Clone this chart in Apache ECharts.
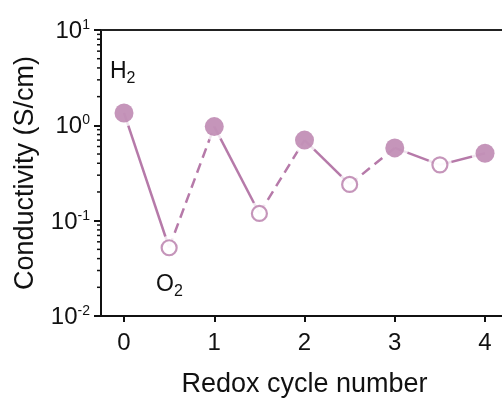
<!DOCTYPE html>
<html>
<head>
<meta charset="utf-8">
<script src="https://cdn.jsdelivr.net/npm/echarts@6.0.0/dist/echarts.min.js"></script>
<style>
  html, body { margin: 0; padding: 0; background: #fff; }
  #chart { width: 502px; height: 398px; }
</style>
</head>
<body>
<div id="chart"></div>
<script>
// ---- data ----
var cycleNumber = [0, 0.5, 1, 1.5, 2, 2.5, 3, 3.5, 4];
var conductivity = [1.35, 0.052, 0.97, 0.119, 0.70, 0.24, 0.58, 0.385, 0.51];
var atmosphere = ['H2', 'O2', 'H2', 'O2', 'H2', 'O2', 'H2', 'O2', 'H2'];
var segmentStyle = ['solid', 'dashed', 'solid', 'dashed', 'solid', 'dashed', 'solid', 'solid'];
var xTickValues = [0, 1, 2, 3, 4];
var yMinorTickValues = [0.02, 0.03, 0.04, 0.05, 0.06, 0.07, 0.08, 0.09,
                        0.2, 0.3, 0.4, 0.5, 0.6, 0.7, 0.8, 0.9,
                        2, 3, 4, 5, 6, 7, 8, 9];

var COLOR = '#b67aa9';
var FONT = "'Liberation Sans', Arial, sans-serif";
var X_MIN = -0.255, X_MAX = 4.188;

var chart = echarts.init(document.getElementById('chart'), null, { renderer: 'canvas' });

var series = [];
// line segments
for (var i = 0; i < cycleNumber.length - 1; i++) {
  series.push({
    type: 'line',
    xAxisIndex: 0, yAxisIndex: 0,
    data: [[cycleNumber[i], conductivity[i]], [cycleNumber[i + 1], conductivity[i + 1]]],
    showSymbol: false,
    silent: true,
    z: 2,
    lineStyle: { color: COLOR, width: 2.5, type: segmentStyle[i] === 'dashed' ? [10, 6] : 'solid' }
  });
}
var filled = [], hollow = [], halo = [];
for (var j = 0; j < cycleNumber.length; j++) {
  var p = [cycleNumber[j], conductivity[j]];
  if (atmosphere[j] === 'H2') { filled.push(p); halo.push({ value: p, symbolSize: 27 }); }
  else { hollow.push(p); halo.push({ value: p, symbolSize: 24 }); }
}
series.push({
  type: 'scatter', data: halo, symbol: 'circle', z: 3, silent: true,
  itemStyle: { color: '#ffffff' }
});
series.push({
  type: 'scatter', data: filled, symbol: 'circle', symbolSize: 19, z: 4, silent: true,
  itemStyle: { color: COLOR }
});
series.push({
  type: 'scatter', data: hollow, symbol: 'circle', symbolSize: 15, z: 4, silent: true,
  itemStyle: { color: '#ffffff', borderColor: COLOR, borderWidth: 2.2 }
});
// minor ticks on log axis
series.push({
  type: 'custom',
  data: yMinorTickValues.map(function (v) { return [X_MIN, v]; }),
  clip: false, silent: true, z: 5,
  renderItem: function (params, api) {
    var pt = api.coord([api.value(0), api.value(1)]);
    return {
      type: 'line',
      shape: { x1: pt[0] - 4, y1: pt[1], x2: pt[0], y2: pt[1] },
      style: { stroke: '#111', lineWidth: 1.5 }
    };
  }
});

var option = {
  backgroundColor: '#ffffff',
  animation: false,
  textStyle: { fontFamily: FONT },
  grid: { left: 101, top: 30, right: 0, bottom: 82, containLabel: false, outerBoundsMode: 'none' },
  xAxis: [{
    type: 'value', min: X_MIN, max: X_MAX,
    name: 'Redox cycle number', nameLocation: 'middle', nameGap: 55,
    nameTextStyle: { fontSize: 27, color: '#111', fontFamily: FONT, padding: [0, 0, 0, 6] },
    axisLine: { show: true, onZero: false, lineStyle: { color: '#111', width: 2 } },
    axisTick: { show: true, customValues: xTickValues, length: 6, lineStyle: { color: '#111', width: 2 } },
    axisLabel: { customValues: xTickValues, fontSize: 24, color: '#111', margin: 15, fontFamily: FONT },
    splitLine: { show: false }
  }, {
    type: 'value', min: X_MIN, max: X_MAX, position: 'top',
    axisLine: { show: true, onZero: false, lineStyle: { color: '#222', width: 2 } },
    axisTick: { show: false }, axisLabel: { show: false }, splitLine: { show: false }
  }],
  yAxis: {
    type: 'log', logBase: 10, min: 0.01, max: 10,
    name: 'Conductivity (S/cm)', nameLocation: 'middle', nameGap: 62,
    nameTextStyle: { fontSize: 27, color: '#111', fontFamily: FONT },
    axisLine: { show: true, onZero: false, lineStyle: { color: '#111', width: 2 } },
    axisTick: { show: true, length: 7, lineStyle: { color: '#111', width: 2 } },
    splitLine: { show: false },
    axisLabel: {
      margin: 11, color: '#111', fontFamily: FONT,
      formatter: function (v) {
        var e = Math.round(Math.log10(v));
        return '{b|10}{s|' + e + '}';
      },
      rich: {
        b: { fontSize: 24, lineHeight: 24, color: '#111', fontFamily: FONT, padding: [3, 0, 0, 0] },
        s: { fontSize: 14, lineHeight: 14, verticalAlign: 'top', color: '#111', fontFamily: FONT }
      }
    }
  },
  graphic: [{
    type: 'text', left: 110, top: 60, silent: true,
    style: {
      text: '{b|H}{s|2}',
      rich: {
        b: { fontSize: 23, lineHeight: 30, fill: '#111', fontFamily: FONT },
        s: { fontSize: 16, lineHeight: 16, verticalAlign: 'bottom', fill: '#111', fontFamily: FONT }
      }
    }
  }, {
    type: 'text', left: 156, top: 273, silent: true,
    style: {
      text: '{b|O}{s|2}',
      rich: {
        b: { fontSize: 23, lineHeight: 30, fill: '#111', fontFamily: FONT },
        s: { fontSize: 16, lineHeight: 16, verticalAlign: 'bottom', fill: '#111', fontFamily: FONT }
      }
    }
  }],
  series: series
};
chart.setOption(option);
</script>
</body>
</html>
